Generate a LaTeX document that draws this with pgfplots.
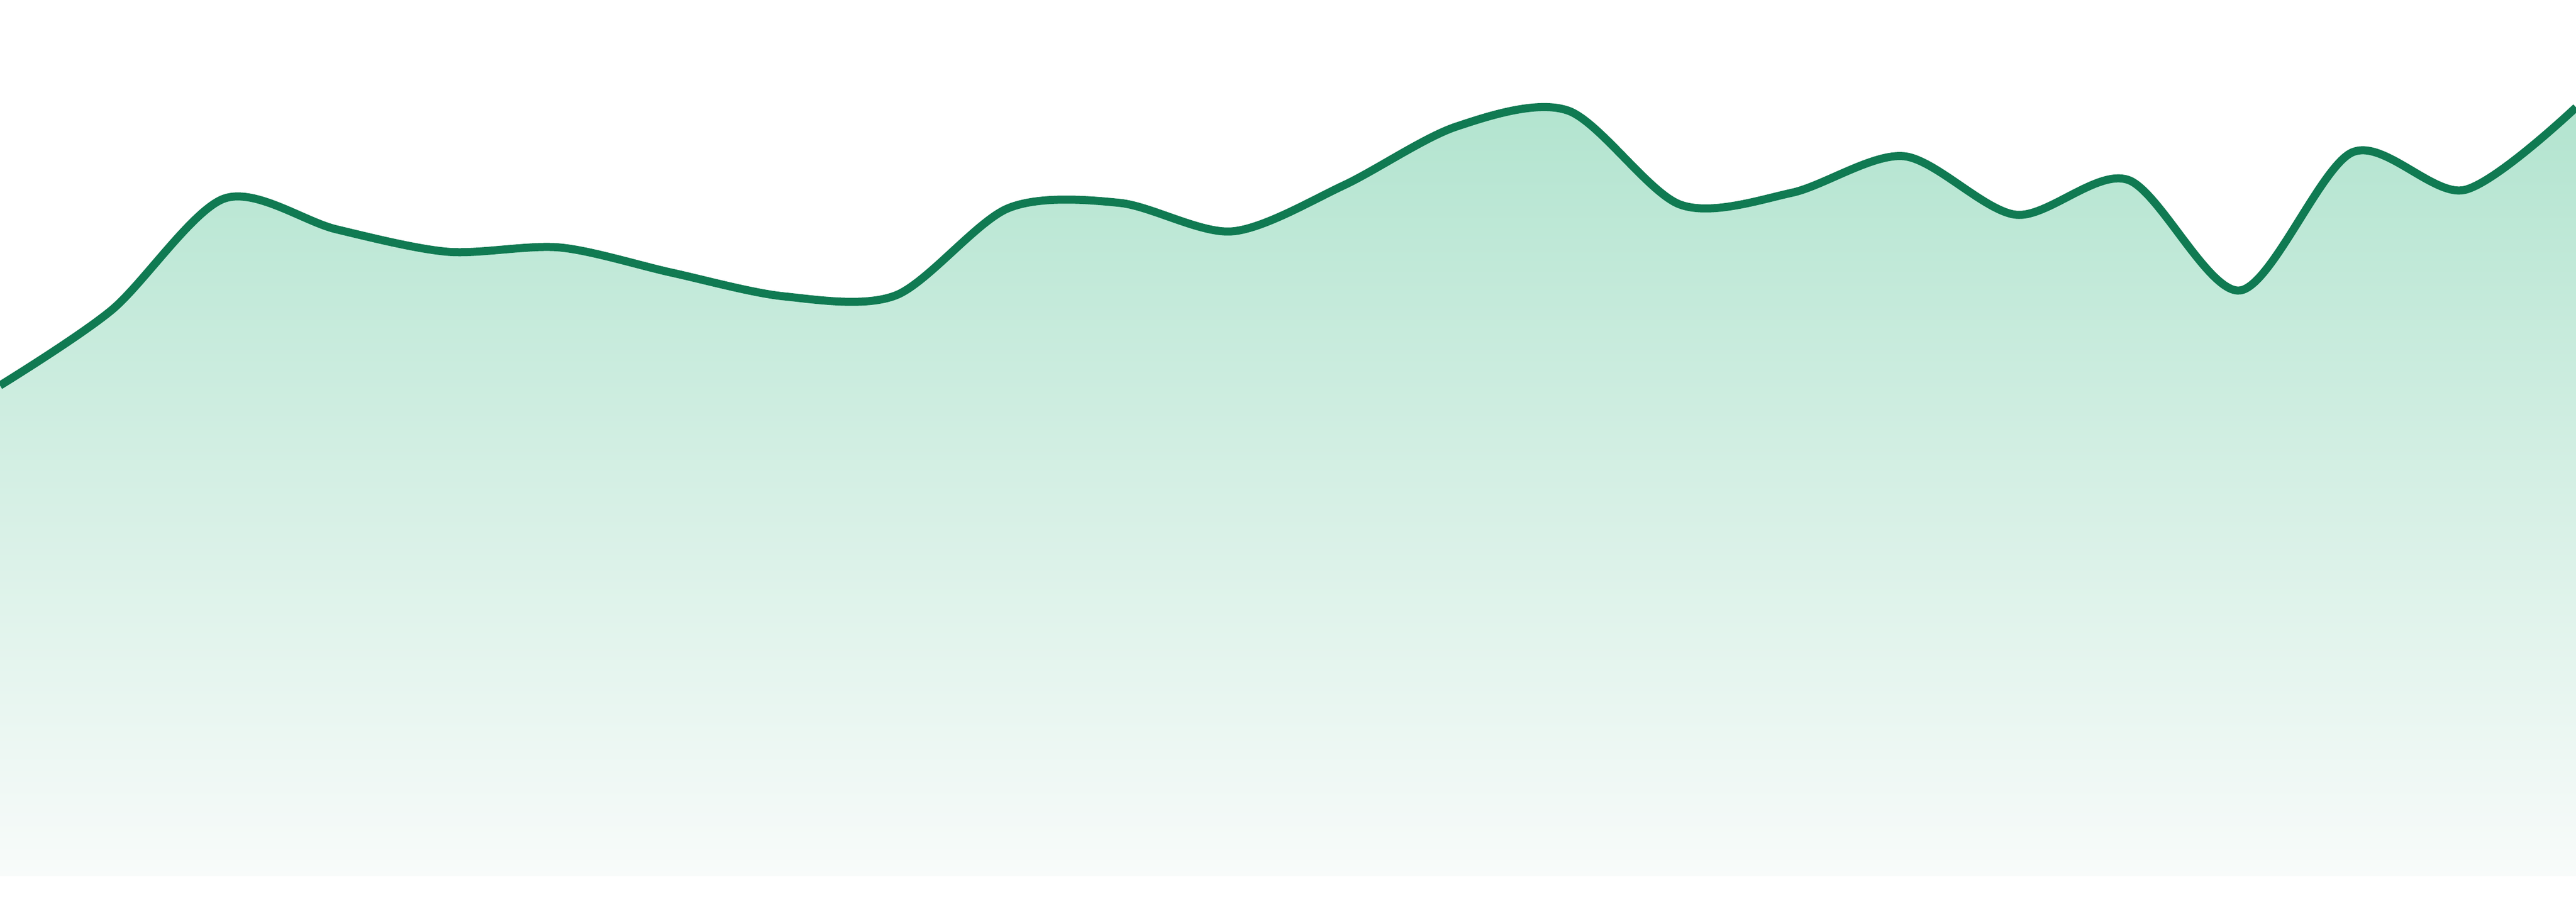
\documentclass[border=0pt]{standalone}
\usepackage{pgfplots}
\pgfplotsset{compat=1.18}
\definecolor{linegreen}{RGB}{16,122,82}
\definecolor{filltop}{RGB}{178,228,207}
\definecolor{fillbottom}{RGB}{248,251,250}

\pgfplotstableread{
x y
0 914
1 1055
2 1262
3 1205
4 1163
5 1171
6 1124
7 1080
8 1082
9 1244
10 1254
11 1201
12 1287
13 1396
14 1426
15 1251
16 1273
17 1341
18 1232
19 1297
20 1091
21 1348
22 1278
23 1432
}\series

\begin{document}
\begin{tikzpicture}
\begin{axis}[
	hide axis,
	scale only axis,
	width=480pt, height=163.2pt,
	xmin=0, xmax=23,
	ymin=0, ymax=1632,
]
\addplot[draw=none, top color=filltop, bottom color=fillbottom, smooth, tension=0.5] table {\series} \closedcycle;
\addplot[linegreen, line width=1.5pt, smooth, tension=0.5] table {\series};
\end{axis}
% keep the whole axis box, plus the white strip below the area
\useasboundingbox ([yshift=-4.8pt]current axis.south west) rectangle (current axis.north east);
\end{tikzpicture}
\end{document}
